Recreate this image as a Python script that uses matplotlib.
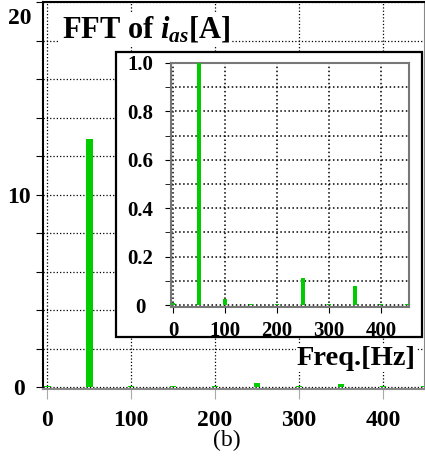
import matplotlib
matplotlib.use("Agg")
import matplotlib.pyplot as plt
from matplotlib.patches import Rectangle
import matplotlib.transforms as mtransforms

plt.rcParams['font.family'] = ['Liberation Serif', 'DejaVu Serif']
plt.rcParams['font.weight'] = 'bold'
plt.rcParams['mathtext.fontset'] = 'custom'
plt.rcParams['mathtext.rm'] = 'Liberation Serif:bold'
plt.rcParams['mathtext.it'] = 'Liberation Serif:italic:bold'
plt.rcParams['mathtext.bf'] = 'Liberation Serif:bold'

# Data (harmonic frequencies and amplitudes)
freqs = [0, 50, 100, 150, 200, 250, 300, 350, 400, 450]
main_amp = [0.05, 12.9, 0.05, 0.05, 0.05, 0.2, 0.05, 0.15, 0.05, 0.05]
inset_amp = [0.01, 1.0, 0.024, 0.005, 0.003, 0.113, 0.003, 0.08, 0.003, 0.003]
main_xticks = [0, 100, 200, 300, 400]
main_yticks = [0, 10, 20]
inset_yticks = [0, 0.2, 0.4, 0.6, 0.8, 1.0]
inset_ytick_labels = ['0', '0.2', '0.4', '0.6', '0.8', '1.0']

W, H = 425, 463
fig = plt.figure(figsize=(W / 100, H / 100), dpi=100)
green = '#00CC00'

def fx(px):
    return px / W

def fy(py):
    return 1 - py / H

# Main axes
ax = fig.add_axes([fx(43), fy(389), fx(424) - fx(43), fy(2) - fy(389)])
ax.bar(freqs, main_amp, width=8, color=green, zorder=3)
ax.set_xlim(-5, 449)
ax.set_ylim(-0.1, 20)
ax.set_xticks(main_xticks)
ax.set_yticks(main_yticks)
ax.set_yticks(range(0, 21, 2), minor=True)
ax.grid(True, which='major', axis='x', linestyle=':', color='black', lw=0.9)
ax.grid(True, which='both', axis='y', linestyle=':', color='black', lw=0.9)
for s in ['left', 'top']:
    ax.spines[s].set_color('black')
    ax.spines[s].set_linewidth(1.5)
ax.spines['bottom'].set_color('#888888')
ax.spines['bottom'].set_linewidth(1.5)
ax.spines['right'].set_color('#888888')
ax.tick_params(axis='x', direction='out', length=7, color='#aaaaaa', pad=8,
               labelsize=17)
ax.tick_params(axis='y', which='both', direction='out', length=5, color='black',
               width=0.8, pad=12, labelsize=17)
for lab in ax.get_yticklabels():
    lab.set_horizontalalignment('center')
ylabs = ax.get_yticklabels()
ylabs[-1].set_verticalalignment('top')
ylabs[-1].set_transform(ylabs[-1].get_transform() +
                        mtransforms.ScaledTranslation(0, -6 / 100, fig.dpi_scale_trans))

# Inset box
box = Rectangle((fx(116), fy(337)), fx(422) - fx(116), fy(52) - fy(337),
                transform=fig.transFigure, facecolor='white', edgecolor='black',
                lw=1.6, zorder=5)
fig.patches.append(box)

# Inset axes
ax2 = fig.add_axes([fx(171), fy(307), fx(409) - fx(171), fy(63) - fy(307)], zorder=6)
ax2.bar(freqs, inset_amp, width=8, color=green, zorder=3)
ax2.set_xlim(-4, 454)
ax2.set_ylim(-0.008, 1.0)
ax2.set_xticks(main_xticks)
ax2.set_yticks(inset_yticks)
ax2.set_yticklabels(inset_ytick_labels)
ax2.set_yticks([i / 10 for i in range(11)], minor=True)
ax2.grid(True, which='major', axis='x', linestyle=':', color='black', lw=1.1)
ax2.grid(True, which='both', axis='y', linestyle=':', color='black', lw=1.1)
for s in ax2.spines.values():
    s.set_color('#777777')
    s.set_linewidth(1.5)
ax2.tick_params(axis='x', direction='out', length=4, color='black', pad=6,
                labelsize=15)
ax2.tick_params(axis='y', which='both', direction='out', length=4, color='black',
                pad=18, labelsize=15)
for lab in ax2.get_yticklabels():
    lab.set_horizontalalignment('center')

# Texts
fig.text(fx(62), fy(37), r'FFT of $i_{as}$[A]', fontsize=22, fontweight='bold',
         ha='left', va='baseline', zorder=7,
         bbox=dict(facecolor='white', edgecolor='none', pad=1))
fig.text(fx(416), fy(365), 'Freq.[Hz]', fontsize=20.5, fontweight='bold',
         ha='right', va='baseline', zorder=7,
         bbox=dict(facecolor='white', edgecolor='none', pad=1))
fig.text(fx(227), fy(440), '(b)', fontsize=17, fontweight='normal',
         ha='center', va='center')

fig.savefig('out.png', dpi=100)
